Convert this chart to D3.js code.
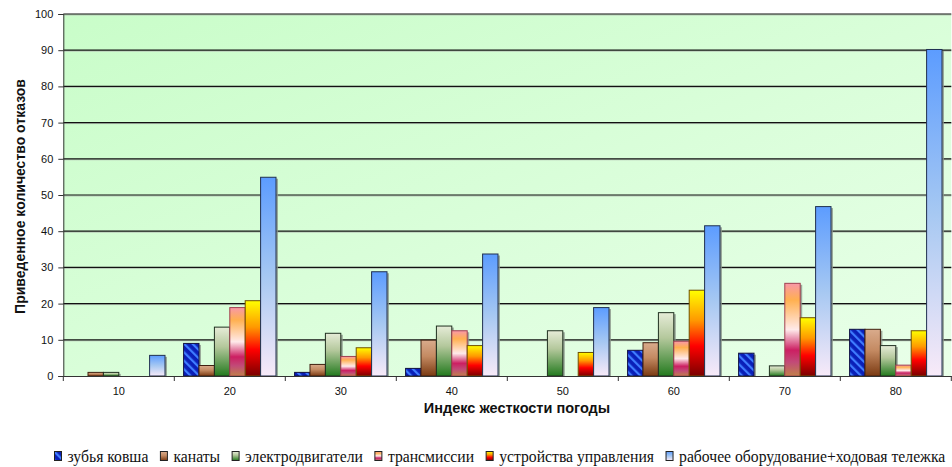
<!DOCTYPE html>
<html><head><meta charset="utf-8">
<script src="https://cdn.jsdelivr.net/npm/d3@7/dist/d3.min.js"></script>
<style>body{margin:0;background:#fff}svg{display:block}</style>
</head><body><svg id="c" width="952" height="467"></svg>
<script>
const categories = ["10","20","30","40","50","60","70","80"];
const seriesNames = ["зубья ковша","канаты","электродвигатели","трансмиссии","устройства управления","рабочее оборудование+ходовая тележка"];
const zubya      = [0, 9.0, 1.0, 2.1, 0, 7.1, 6.3, 12.9];
const kanaty     = [1.0, 2.9, 3.2, 9.9, 0, 9.2, 0, 12.9];
const elektro    = [1.0, 13.5, 11.8, 13.8, 12.5, 17.5, 2.8, 8.4];
const transm     = [0, 18.9, 5.4, 12.5, 0, 9.6, 25.6, 3.0];
const ustroystva = [0, 20.8, 7.8, 8.4, 6.5, 23.7, 16.1, 12.5];
const rabochee   = [5.7, 54.9, 28.8, 33.7, 18.9, 41.5, 46.8, 90.2];
const yTicks = [0,10,20,30,40,50,60,70,80,90,100];
const seriesValues = [zubya, kanaty, elektro, transm, ustroystva, rabochee];

const svg = d3.select("#c");
const L = 63.3, R = 951.3, T = 14, B = 376;
const defs = svg.append("defs");

const bg = defs.append("linearGradient").attr("id","bg").attr("x1","0").attr("y1","0").attr("x2","1").attr("y2","1");
bg.append("stop").attr("offset","0").attr("stop-color","#c9fdc9");
bg.append("stop").attr("offset","1").attr("stop-color","#e9ffe9");

function vgrad(id, stops){
  const g = defs.append("linearGradient").attr("id",id).attr("x1","0").attr("y1","0").attr("x2","0").attr("y2","1");
  stops.forEach(s=>g.append("stop").attr("offset",s[0]).attr("stop-color",s[1]));
}
vgrad("g1",[[0,"#d9ab8c"],[0.45,"#c48a62"],[1,"#7a3a12"]]);
vgrad("g2",[[0,"#e6ecd8"],[0.4,"#b4c89c"],[1,"#237a1e"]]);
vgrad("g3",[[0,"#f898a8"],[0.18,"#ffb050"],[0.5,"#ffeaea"],[0.72,"#cc1f62"],[0.85,"#c24a78"],[1,"#c0804a"]]);
vgrad("g4",[[0,"#ffff00"],[0.35,"#ff9900"],[0.65,"#ff0000"],[1,"#7a0000"]]);
vgrad("g5",[[0,"#5c9cff"],[0.5,"#a6c8f2"],[1,"#f8eaf8"]]);
const pat = defs.append("pattern").attr("id","g0").attr("patternUnits","userSpaceOnUse")
  .attr("width",6).attr("height",6).attr("patternTransform","rotate(-45)");
pat.append("rect").attr("width",6).attr("height",6).attr("fill","#0a1fb8");
pat.append("rect").attr("width",2.2).attr("height",6).attr("fill","#3f7dff");

const fills = ["url(#g0)","url(#g1)","url(#g2)","url(#g3)","url(#g4)","url(#g5)"];
const strokes = ["#101040","#402010","#203020","#a04050","#705000","#203050"];

const x0 = d3.scaleBand().domain(categories).range([L,R]).padding(0);
const x1 = d3.scaleBand().domain(d3.range(seriesNames.length)).range([9.3, x0.bandwidth()-9.3]).padding(0);
const y = d3.scaleLinear().domain([0,100]).range([B,T]);

svg.append("rect").attr("x",L).attr("y",T).attr("width",R-L).attr("height",B-T).attr("fill","url(#bg)");

const grid = svg.append("g");
yTicks.filter(t=>t>0).forEach(t=>{
  grid.append("line").attr("x1",L).attr("x2",R).attr("y1",y(t)+1).attr("y2",y(t)+1).attr("stroke","#b8c8b8").attr("stroke-width",1);
  grid.append("line").attr("x1",L).attr("x2",R).attr("y1",y(t)).attr("y2",y(t)).attr("stroke","#111").attr("stroke-width",1.2);
});

const data = [];
categories.forEach((c,i)=>seriesValues.forEach((arr,s)=>data.push({c, s, v:arr[i]})));
const bars = svg.append("g");
data.filter(d=>d.v>0).forEach(d=>{
  const bx = x0(d.c)+x1(d.s), bw = x1.bandwidth();
  bars.append("rect").attr("x",bx+2).attr("y",y(d.v)+1.5).attr("width",bw).attr("height",B-y(d.v)-1.5).attr("fill","#8a958a").attr("opacity",0.8);
});
data.filter(d=>d.v>0).forEach(d=>{
  const bx = x0(d.c)+x1(d.s), bw = x1.bandwidth();
  bars.append("rect").attr("x",bx).attr("y",y(d.v)).attr("width",bw).attr("height",B-y(d.v))
    .attr("fill",fills[d.s]).attr("stroke",strokes[d.s]).attr("stroke-width",1);
});

const yAxis = svg.append("g").attr("transform",`translate(${L},0)`)
  .call(d3.axisLeft(y).tickValues(yTicks).tickSize(5).tickPadding(5));
yAxis.select(".domain").attr("stroke","#333");
yAxis.selectAll(".tick line").attr("stroke","#333");
yAxis.selectAll("text").attr("font-family","Arial, 'Liberation Sans'").attr("font-size",11).attr("fill","#111");

const xAxis = svg.append("g").attr("transform",`translate(0,${B})`)
  .call(d3.axisBottom(x0).tickSize(0).tickPadding(11));
xAxis.select(".domain").attr("stroke","#333");
xAxis.selectAll("text").attr("font-family","Arial, 'Liberation Sans'").attr("font-size",11).attr("fill","#111");
const bounds = categories.map(c=>x0(c)).concat([R]);
svg.append("g").selectAll("line").data(bounds).join("line")
  .attr("x1",d=>d).attr("x2",d=>d).attr("y1",B).attr("y2",B+5).attr("stroke","#333");

svg.append("text").attr("x",517).attr("y",413).attr("text-anchor","middle")
  .attr("font-family","Arial, 'Liberation Sans'").attr("font-weight","bold").attr("font-size",14.5).attr("fill","#111")
  .text("Индекс жесткости погоды");
svg.append("text").attr("transform",`translate(25,${196.5}) rotate(-90)`).attr("text-anchor","middle")
  .attr("font-family","Arial, 'Liberation Sans'").attr("font-weight","bold").attr("font-size",14).attr("fill","#111")
  .text("Приведенное количество отказов");

const leg = svg.append("g");
let lx = 54; const ly = 462;
seriesNames.forEach((n,i)=>{
  leg.append("rect").attr("x",lx+0.5).attr("y",ly-10.5).attr("width",7).attr("height",9)
    .attr("fill",fills[i]).attr("stroke","#222").attr("stroke-width",1);
  const t = leg.append("text").attr("x",lx+13.5).attr("y",ly).attr("font-family","'Liberation Serif', 'Times New Roman', serif")
    .attr("font-size",15.7).attr("fill","#111").text(n);
  lx += 13.5 + t.node().getComputedTextLength() + 11.5;
});
</script></body></html>
